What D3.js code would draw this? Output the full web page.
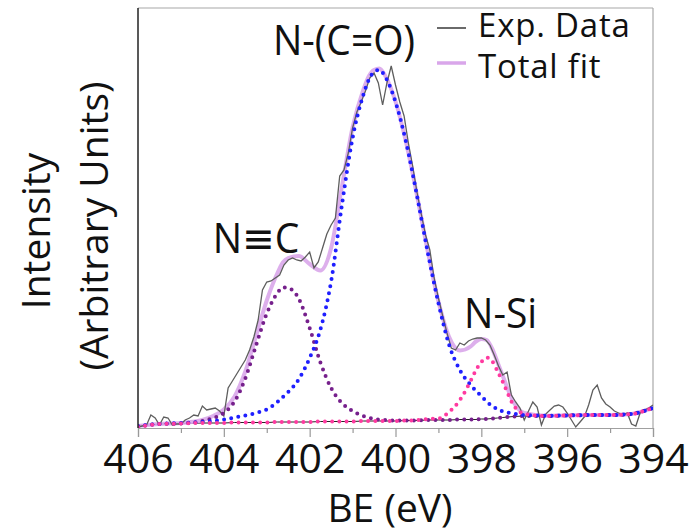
<!DOCTYPE html>
<html><head><meta charset="utf-8">
<script src="https://cdn.jsdelivr.net/npm/d3@7"></script>
<style>
body{margin:0;background:#fff}
svg{display:block}
text{font-family:"Open Sans","DejaVu Sans",sans-serif;fill:#111}
</style>
</head><body>
<svg id="c" width="692" height="532"></svg>
<script>
// ---------- data (BE in eV, intensity in arbitrary units) ----------
const beExp = [406.0,405.9,405.8,405.7,405.6,405.5,405.4,405.3,405.2,405.1,
405.0,404.9,404.8,404.7,404.6,404.5,404.4,404.3,404.2,404.1,
404.0,403.9,403.8,403.7,403.6,403.5,403.4,403.3,403.2,403.1,
403.0,402.9,402.8,402.7,402.6,402.5,402.4,402.3,402.2,402.1,
402.0,401.9,401.8,401.7,401.6,401.5,401.4,401.3,401.2,401.1,
401.0,400.9,400.8,400.7,400.6,400.5,400.4,400.3,400.2,400.1,
400.0,399.9,399.8,399.7,399.6,399.5,399.4,399.3,399.2,399.1,
399.0,398.9,398.8,398.7,398.6,398.5,398.4,398.3,398.2,398.1,
398.0,397.9,397.8,397.7,397.6,397.5,397.4,397.3,397.2,397.1,
397.0,396.9,396.8,396.7,396.6,396.5,396.4,396.3,396.2,396.1,
396.0,395.9,395.8,395.7,395.6,395.5,395.4,395.3,395.2,395.1,
395.0,394.9,394.8,394.7,394.6,394.5,394.4,394.3,394.2,394.1,
394.0];
const expData = [1,2,3,13,10,3,11,10,3,4,
4,8,10,13,12,22,18,19,20,17,
12,40,47,54,61,68,78,91,108,138,
146,147,150,153,163,168,170,168,167,171,
176,160,166,180,194,203,210,252,258,275,
300,316,326,337,350,355,345,323,345,362,
343,326,312,285,262,236,214,193,178,150,
130,112,95,80,78,85,83,87,89,90,
90,88,83,73,62,53,56,33,26,20,
8,17,26,21,3,14,18,22,23,21,
15,8,1,6,11,23,38,43,30,24,
21,17,15,13,15,4,2,15,18,20,
23];

const beFit = [406,405.5,405,404.5,404.25,404,403.75,403.5,403.25,403,
402.75,402.625,402.5,402.25,402,401.75,401.5,401.25,401,400.75,
400.625,400.5,400.375,400.25,400,399.75,399.5,399.25,399,398.75,
398.5,398.25,398.125,398,397.875,397.75,397.625,397.5,397.25,397,
396.5,396,395.5,395,394.5,394.25,394];
const background = [2,4,4.5,5,5,5,5.5,5.5,5.5,5.5,
6,6,6,6,6,6.5,6.5,6.5,6.5,7,
7,7,7,7,7,7.5,7.5,8,8,8,
8.5,8.5,8.5,9,9,9.5,10,10.5,11.5,12,
12,12.5,13,13,14,16.5,20];
const fitNCO = [2,4,5,6,7,8.5,10.5,12.5,15,18.5,
26,31,36,49,70,98.5,146.5,222.5,290,333,
348,356,358,352,326,285,232.5,176,125,83,
58,43,37,32,26.5,22,19,16.5,14.5,13,
12.3,12.5,13,13,14,16.5,20];
const fitNC = [1.5,4,4.5,7,10,15,26.5,49.5,82.5,114.5,
135,140.5,140,129,100,65.5,40,25,17,12,
10.5,9,8.5,8,7.5,7.5,7.5,8,8,8,
8.5,8.5,8.5,9,9,9.5,10,10.5,11.5,12,
12,12.5,13,13,14,16.5,20];
const fitNSi = [1,4,4.5,5,5,5,5.5,5.5,5.5,5.5,
6,6,6,6,6,6.5,6.5,6.5,6.5,7,
7,7,7,7,7,7.5,7.8,9,9.5,16,
28,47,58,66,70.5,67,57,46,23,14,
12,12.5,13,13,14,16.5,20];
const totalFit = [2,4,5,8,12,18.5,31.5,56.5,92,127.5,
155,165.5,170,172,164,157.5,180,241,300.5,338,
351.5,358,359.5,353,326.5,285,232.8,177,126.5,91,
77.5,81.5,86.5,89,88,79.5,66,52,26,15,
12.3,12.5,13,13,14,16.5,20];

const xTicks = [406,404,402,400,398,396,394];
const xMinor = [405,403,401,399,397,395];
const peakNames = ["N-(C=O)","N\u2261C","N-Si"];
const peakLabelBE = [401.2,403.25,397.55];
const peakLabelI = [373,175,100];
const legendNames = ["Exp. Data","Total fit"];

// ---------- layout ----------
const svg = d3.select("#c");
const L=138, R=653, T=8, B=428;
const x = d3.scaleLinear().domain([406,394]).range([L,R]);
const y = d3.scaleLinear().domain([0,420]).range([B,T]);

svg.append("defs").append("clipPath").attr("id","clip")
  .append("rect").attr("x",L).attr("y",T).attr("width",R-L).attr("height",B-T+2);

// frame
svg.append("line").attr("x1",L).attr("x2",R).attr("y1",T).attr("y2",T).attr("stroke","#a8a8a8").attr("stroke-width",1.2);
svg.append("line").attr("x1",R).attr("x2",R).attr("y1",T).attr("y2",B).attr("stroke","#a8a8a8").attr("stroke-width",1.2);

const g = svg.append("g").attr("clip-path","url(#clip)");
const line = (xs, ys, curve) => d3.line().x((d,i)=>x(xs[i])).y((d,i)=>y(ys[i])).curve(curve)(ys);

// background
g.append("path").attr("d",line(beFit,background,d3.curveLinear)).attr("fill","none").attr("stroke","#222").attr("stroke-width",1);
// total fit
g.append("path").attr("d",line(beFit,totalFit,d3.curveMonotoneX)).attr("fill","none")
  .attr("stroke","#d9a6ea").attr("stroke-width",4).attr("stroke-opacity",0.9);
// exp data
g.append("path").attr("d",line(beExp,expData,d3.curveLinear)).attr("fill","none")
  .attr("stroke","#5e5e5e").attr("stroke-width",1.3);
// components
const comps = [[fitNC,"#76208c"],[fitNCO,"#1f1fff"],[fitNSi,"#ff3aa0"]];
comps.forEach(([vals,col])=>{
  g.append("path").attr("d",line(beFit,vals,d3.curveMonotoneX)).attr("fill","none")
    .attr("stroke",col).attr("stroke-width",4).attr("stroke-linecap","round")
    .attr("stroke-dasharray","0 7.2");
});

// axes
svg.append("line").attr("x1",L).attr("x2",L).attr("y1",T).attr("y2",B).attr("stroke","#222").attr("stroke-width",1.5);
const ax = svg.append("g").attr("transform",`translate(0,${B})`)
  .call(d3.axisBottom(x).tickValues(xTicks).tickSize(9).tickPadding(7).tickFormat(d3.format("d")));
ax.select(".domain").attr("stroke","#a0a0a0").attr("stroke-width",1.2);
ax.selectAll(".tick line").attr("stroke","#999").attr("stroke-width",1.2);
ax.selectAll("text").attr("font-size",41).attr("fill","#111")
  .style("font-family",'"Open Sans",sans-serif');
const axm = svg.append("g").attr("transform",`translate(0,${B})`)
  .call(d3.axisBottom(x).tickValues(xMinor).tickSize(5).tickFormat(""));
axm.select(".domain").remove();
axm.selectAll(".tick line").attr("stroke","#999").attr("stroke-width",1.2);

// axis titles
svg.append("text").attr("x",390).attr("y",522).attr("text-anchor","middle").attr("font-size",39).text("BE (eV)");
svg.append("text").attr("transform","translate(50,231) rotate(-90)").attr("text-anchor","middle").attr("font-size",39).text("Intensity");
svg.append("text").attr("transform","translate(108,226) rotate(-90)").attr("text-anchor","middle").attr("font-size",39).text("(Arbitrary Units)");

// peak labels
peakNames.forEach((n,i)=>{
  svg.append("text").attr("transform",`translate(${x(peakLabelBE[i])},${y(peakLabelI[i])}) scale(1,1.08)`)
    .attr("text-anchor","middle").attr("font-size",39).text(n);
});

// legend
const legCols = ["#6a6a6a","#d9a6ea"], legW=[2,3.5];
legendNames.forEach((n,i)=>{
  const yy = [28,63][i];
  svg.append("line").attr("x1",437).attr("x2",466).attr("y1",yy).attr("y2",yy)
    .attr("stroke",legCols[i]).attr("stroke-width",legW[i]);
  svg.append("text").attr("x",478).attr("y",[37,78][i]).attr("font-size",33)
    .attr("letter-spacing",0.8).text(n);
});
</script>
</body></html>
